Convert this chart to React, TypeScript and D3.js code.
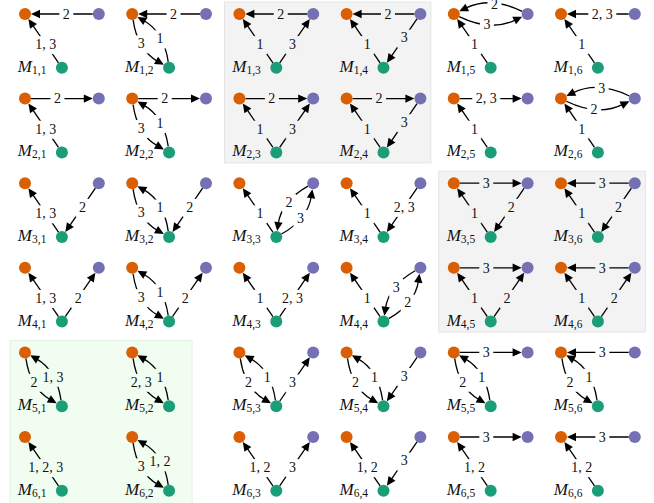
import React from "react";
import * as d3 from "d3";

// ---- data ----
const rowIds = [1, 2, 3, 4, 5, 6];
const colIds = [1, 2, 3, 4, 5, 6];
const nodeColors: Record<string, string> = { O: "#d95f02", P: "#7570b3", G: "#1b9e77" };

// edges per motif: [source, target, label]
type E = [string, string, string];
const motifs: E[][] = [
  // row 1
  [["P", "O", "2"], ["G", "O", "1, 3"]],
  [["P", "O", "2"], ["G", "O", "1"], ["O", "G", "3"]],
  [["P", "O", "2"], ["G", "O", "1"], ["G", "P", "3"]],
  [["P", "O", "2"], ["G", "O", "1"], ["P", "G", "3"]],
  [["P", "O", "2"], ["O", "P", "3"], ["G", "O", "1"]],
  [["P", "O", "2, 3"], ["G", "O", "1"]],
  // row 2
  [["O", "P", "2"], ["G", "O", "1, 3"]],
  [["O", "P", "2"], ["G", "O", "1"], ["O", "G", "3"]],
  [["O", "P", "2"], ["G", "O", "1"], ["G", "P", "3"]],
  [["O", "P", "2"], ["G", "O", "1"], ["P", "G", "3"]],
  [["O", "P", "2, 3"], ["G", "O", "1"]],
  [["P", "O", "3"], ["O", "P", "2"], ["G", "O", "1"]],
  // row 3
  [["G", "O", "1, 3"], ["P", "G", "2"]],
  [["G", "O", "1"], ["O", "G", "3"], ["P", "G", "2"]],
  [["G", "O", "1"], ["P", "G", "2"], ["G", "P", "3"]],
  [["G", "O", "1"], ["P", "G", "2, 3"]],
  [["O", "P", "3"], ["G", "O", "1"], ["P", "G", "2"]],
  [["P", "O", "3"], ["G", "O", "1"], ["P", "G", "2"]],
  // row 4
  [["G", "O", "1, 3"], ["G", "P", "2"]],
  [["G", "O", "1"], ["O", "G", "3"], ["G", "P", "2"]],
  [["G", "O", "1"], ["G", "P", "2, 3"]],
  [["G", "O", "1"], ["P", "G", "3"], ["G", "P", "2"]],
  [["O", "P", "3"], ["G", "O", "1"], ["G", "P", "2"]],
  [["P", "O", "3"], ["G", "O", "1"], ["G", "P", "2"]],
  // row 5
  [["G", "O", "1, 3"], ["O", "G", "2"]],
  [["G", "O", "1"], ["O", "G", "2, 3"]],
  [["G", "O", "1"], ["O", "G", "2"], ["G", "P", "3"]],
  [["G", "O", "1"], ["O", "G", "2"], ["P", "G", "3"]],
  [["O", "P", "3"], ["G", "O", "1"], ["O", "G", "2"]],
  [["P", "O", "3"], ["G", "O", "1"], ["O", "G", "2"]],
  // row 6
  [["G", "O", "1, 2, 3"]],
  [["G", "O", "1, 2"], ["O", "G", "3"]],
  [["G", "O", "1, 2"], ["G", "P", "3"]],
  [["G", "O", "1, 2"], ["P", "G", "3"]],
  [["O", "P", "3"], ["G", "O", "1, 2"]],
  [["P", "O", "3"], ["G", "O", "1, 2"]],
];

// highlighted panels: rows/cols (1-based) and kind
const panels = [
  { rows: [1, 2], cols: [3, 4], kind: "gray" },
  { rows: [3, 4], cols: [5, 6], kind: "gray" },
  { rows: [5, 6], cols: [1, 2], kind: "green" },
];

// ---- layout ----
const W = 654, H = 503;
const xScale = d3.scaleLinear().domain([1, 6]).range([25, 561]);
const yScale = d3.scaleLinear().domain([1, 6]).range([14, 437]);
const PX = 73.8, GX = 36.9, GY = 53.8;
const R = 6, AL = 9, AW = 4.2, LW = 1.3, FS = 14;
const FONT = "'Liberation Serif'";
const panelStyle: Record<string, { fill: string; stroke: string }> = {
  gray: { fill: "#f3f3f3", stroke: "#e0e0e0" },
  green: { fill: "#f0fdf0", stroke: "#dcf0dc" },
  none: { fill: "#ffffff", stroke: "none" },
};

function textWidth(s: string, fs: number) {
  let w = 0;
  for (const ch of s) w += ch === "," || ch === " " ? 0.25 * fs : 0.5 * fs;
  return w;
}

function panelOf(r: number, c: number) {
  return panels.find((p) => p.rows.includes(r) && p.cols.includes(c));
}

export default function App() {
  const panelRects = panels.map((p, i) => {
    const x0 = xScale(p.cols[0]) - 15;
    const x1 = p.kind === "green" ? xScale(p.cols[1]) + GX + 23 : xScale(p.cols[1]) + PX + 10.5;
    const y0 = yScale(p.rows[0]) - 12;
    const y1 = yScale(p.rows[1]) + GY + 10.5 + (p.kind === "green" ? 10 : 0);
    const st = panelStyle[p.kind];
    return <rect key={i} x={x0} y={y0} width={x1 - x0} height={y1 - y0} fill={st.fill} stroke={st.stroke} strokeWidth={0.8} />;
  });

  const motifEls: React.ReactNode[] = [];
  rowIds.forEach((r, ri) => {
    colIds.forEach((c, ci) => {
      const edges = motifs[ri * 6 + ci];
      const ox = xScale(c), oy = yScale(r);
      const pos: Record<string, { x: number; y: number }> = {
        O: { x: ox, y: oy },
        P: { x: ox + PX, y: oy },
        G: { x: ox + GX, y: oy + GY },
      };
      const p = panelOf(r, c);
      const bg = panelStyle[p ? p.kind : "none"].fill;
      const present = new Set<string>(["O", "G"]);
      const lines: React.ReactNode[] = [];
      const labels: React.ReactNode[] = [];
      edges.forEach(([s, t, lab], k) => {
        present.add(s); present.add(t);
        const S = pos[s], T = pos[t];
        const bent = edges.some(([s2, t2]) => s2 === t && t2 === s);
        const dx = T.x - S.x, dy = T.y - S.y, L = Math.hypot(dx, dy);
        const ux = dx / L, uy = dy / L;
        let lx: number, ly: number, tip: [number, number], dir: [number, number], d: string;
        if (!bent) {
          const p0 = [S.x + ux * R, S.y + uy * R];
          tip = [T.x - ux * R, T.y - uy * R];
          dir = [ux, uy];
          const base = [tip[0] - ux * AL * 0.8, tip[1] - uy * AL * 0.8];
          d = `M${p0[0]},${p0[1]}L${base[0]},${base[1]}`;
          lx = S.x + dx * 0.44; ly = S.y + dy * 0.44;
        } else {
          const nx = -uy, ny = ux;
          const off = L * 0.245;
          const C = [(S.x + T.x) / 2 + nx * off, (S.y + T.y) / 2 + ny * off];
          const a = [C[0] - S.x, C[1] - S.y], al = Math.hypot(a[0], a[1]);
          const b = [C[0] - T.x, C[1] - T.y], bl = Math.hypot(b[0], b[1]);
          const p0 = [S.x + (a[0] / al) * R, S.y + (a[1] / al) * R];
          tip = [T.x + (b[0] / bl) * R, T.y + (b[1] / bl) * R];
          dir = [-b[0] / bl, -b[1] / bl];
          const end = [tip[0] - dir[0] * AL * 0.8, tip[1] - dir[1] * AL * 0.8];
          d = `M${p0[0]},${p0[1]}Q${C[0]},${C[1]} ${end[0]},${end[1]}`;
          const tt = 0.44;
          lx = (1 - tt) * (1 - tt) * p0[0] + 2 * tt * (1 - tt) * C[0] + tt * tt * tip[0];
          ly = (1 - tt) * (1 - tt) * p0[1] + 2 * tt * (1 - tt) * C[1] + tt * tt * tip[1];
        }
        const nx2 = -dir[1], ny2 = dir[0];
        const bx = tip[0] - dir[0] * AL, by = tip[1] - dir[1] * AL;
        lines.push(
          <g key={"e" + k}>
            <path d={d} fill="none" stroke="#000" strokeWidth={LW} />
            <path
              d={`M${tip[0]},${tip[1]}L${bx + nx2 * AW},${by + ny2 * AW}L${bx - nx2 * AW},${by - ny2 * AW}Z`}
              fill="#000"
            />
          </g>
        );
        const tw = textWidth(lab, FS);
        labels.push(
          <g key={"l" + k}>
            <rect x={lx - tw / 2 - 3.5} y={ly - 8} width={tw + 7} height={18} fill={bg} />
            <text x={lx} y={ly + 4.8} textAnchor="middle" style={{ fontFamily: FONT, fontSize: FS }} fill="#111">
              {lab}
            </text>
          </g>
        );
      });
      const nodes = ["O", "P", "G"].filter((n) => present.has(n));
      motifEls.push(
        <g key={`m${r}-${c}`}>
          {lines}
          {labels}
          {nodes.map((n) => (
            <circle key={n} cx={pos[n].x} cy={pos[n].y} r={R} fill={nodeColors[n]} />
          ))}
          <text x={pos.G.x - 15.5} y={pos.G.y + 4} textAnchor="end" style={{ fontFamily: FONT }} fill="#111">
            <tspan style={{ fontSize: 17, fontStyle: "italic" }}>M</tspan>
            <tspan style={{ fontSize: 11.5 }} dy={2}>{`${r},${c}`}</tspan>
          </text>
        </g>
      );
    });
  });

  return (
    <svg width={W} height={H} style={{ position: "absolute", left: 0, top: 0, background: "#fff" }}>
      {panelRects}
      {motifEls}
    </svg>
  );
}
